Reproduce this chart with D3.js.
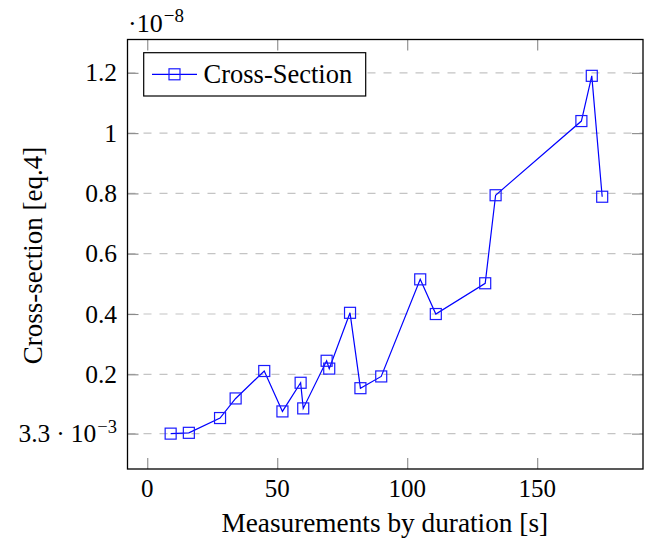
<!DOCTYPE html>
<html>
<head>
<meta charset="utf-8">
<script src="https://cdn.jsdelivr.net/npm/d3@7"></script>
<style>
  html, body { margin: 0; padding: 0; background: #fff; }
</style>
</head>
<body>
<svg id="chart" width="649" height="542"></svg>
<script>
// Measurement durations [s] and cross-section values (in units of 1e-8)
const durations = [9, 16, 28, 34, 45, 52, 59, 60, 69, 70, 78, 82, 90, 105, 111, 130, 134, 167, 171, 175];
const crossSection = [0.0033, 0.006, 0.055, 0.12, 0.211, 0.077, 0.172, 0.087, 0.245, 0.219, 0.404, 0.154, 0.193, 0.515, 0.4, 0.502, 0.794, 1.04, 1.19, 0.789];

const xTicks = [0, 50, 100, 150];
const yTicks = [0.0033, 0.2, 0.4, 0.6, 0.8, 1, 1.2];
const yTickLabels = ["3.3·10^-3", "0.2", "0.4", "0.6", "0.8", "1", "1.2"];
const seriesName = "Cross-Section";
const xTitle = "Measurements by duration [s]";
const yTitle = "Cross-section [eq.4]";

const serif = '"Liberation Serif"';
const frame = { left: 127.5, right: 643, top: 39.5, bottom: 469 };
const svg = d3.select("#chart").style("font-family", serif);

const x = d3.scaleLinear().domain([-7.6, 190.7]).range([frame.left, frame.right]);
const y = d3.scaleLinear().domain([-0.114, 1.3105]).range([frame.bottom, frame.top]);

const tickLen = 11;
const tickColor = "#8a8a8a";

// horizontal dashed grid
svg.append("g").selectAll("line").data(yTicks).join("line")
  .attr("x1", frame.left).attr("x2", frame.right)
  .attr("y1", d => y(d)).attr("y2", d => y(d))
  .attr("stroke", "#c4c4c4").attr("stroke-width", 1.2)
  .attr("stroke-dasharray", "8,8");

// ticks on all four sides, drawn inward
const bottomAxis = d3.axisBottom(x).tickValues(xTicks).tickSizeInner(-tickLen).tickSizeOuter(0).tickFormat("");
const topAxis = d3.axisTop(x).tickValues(xTicks).tickSizeInner(-tickLen).tickSizeOuter(0).tickFormat("");
const leftAxis = d3.axisLeft(y).tickValues(yTicks).tickSizeInner(-tickLen).tickSizeOuter(0).tickFormat("");
const rightAxis = d3.axisRight(y).tickValues(yTicks).tickSizeInner(-tickLen).tickSizeOuter(0).tickFormat("");

function styleAxis(g) {
  g.select(".domain").remove();
  g.selectAll(".tick line").attr("stroke", tickColor).attr("stroke-width", 1.1);
}
svg.append("g").attr("transform", `translate(0,${frame.bottom})`).call(bottomAxis).call(styleAxis);
svg.append("g").attr("transform", `translate(0,${frame.top})`).call(topAxis).call(styleAxis);
svg.append("g").attr("transform", `translate(${frame.left},0)`).call(leftAxis).call(styleAxis);
svg.append("g").attr("transform", `translate(${frame.right},0)`).call(rightAxis).call(styleAxis);

// x tick labels
svg.append("g").selectAll("text").data(xTicks).join("text")
  .style("font-family", serif)
  .attr("x", d => x(d)).attr("y", 497)
  .attr("text-anchor", "middle")
  .attr("font-size", 25)
  .text(d => d);

// y tick labels (with superscript exponent where present)
const yLab = svg.append("g").selectAll("text").data(yTicks).join("text")
  .style("font-family", serif)
  .attr("x", 117).attr("y", d => y(d) + 8.5)
  .attr("text-anchor", "end")
  .attr("font-size", 25.5);
yLab.each(function(d, i) {
  const t = d3.select(this);
  const lab = yTickLabels[i];
  const parts = lab.split("^");
  if (parts.length === 2) {
    const [mant, base] = parts[0].split("·");
    t.append("tspan").text(mant);
    t.append("tspan").attr("dx", 6).text("·");
    t.append("tspan").attr("dx", 6).text(base);
    t.append("tspan").attr("dx", 1).attr("dy", -9).attr("font-size", 18.5).text(parts[1].replace("-", "−"));
  } else {
    t.text(lab);
  }
});

// common multiplier above the axis
const mult = svg.append("text").style("font-family", serif).attr("x", 128).attr("y", 32).attr("font-size", 26);
mult.append("tspan").text("·10");
mult.append("tspan").attr("dx", 1).attr("dy", -10).attr("font-size", 19).text("−8");

// axis titles
svg.append("text")
  .style("font-family", serif)
  .attr("x", (frame.left + frame.right) / 2 - 0.5).attr("y", 532)
  .attr("text-anchor", "middle").attr("font-size", 27.3)
  .text(xTitle);
svg.append("text")
  .style("font-family", serif)
  .attr("transform", `translate(42,255.5) rotate(-90)`)
  .attr("text-anchor", "middle").attr("font-size", 27)
  .text(yTitle);

// data line
const pts = durations.map((d, i) => [d, crossSection[i]]);
svg.append("path")
  .datum(pts)
  .attr("fill", "none").attr("stroke", "#0000ff").attr("stroke-width", 1.2)
  .attr("d", d3.line().x(d => x(d[0])).y(d => y(d[1])));

// square markers
const ms = 11;
svg.append("g").selectAll("rect").data(pts).join("rect")
  .attr("x", d => x(d[0]) - ms / 2).attr("y", d => y(d[1]) - ms / 2)
  .attr("width", ms).attr("height", ms)
  .attr("fill", "none").attr("stroke", "#1a1aff").attr("stroke-width", 1.2);

// plot frame
svg.append("rect")
  .attr("x", frame.left).attr("y", frame.top)
  .attr("width", frame.right - frame.left).attr("height", frame.bottom - frame.top)
  .attr("fill", "none").attr("stroke", "#000").attr("stroke-width", 1.3);

// legend
const lg = svg.append("g");
lg.append("rect")
  .attr("x", 143.7).attr("y", 52.7).attr("width", 222).attr("height", 43.3)
  .attr("fill", "#fff").attr("stroke", "#000").attr("stroke-width", 1.2);
lg.append("line")
  .attr("x1", 152).attr("x2", 197).attr("y1", 74.3).attr("y2", 74.3)
  .attr("stroke", "#0000ff").attr("stroke-width", 1.2);
lg.append("rect")
  .attr("x", 174.5 - ms / 2).attr("y", 74.3 - ms / 2).attr("width", ms).attr("height", ms)
  .attr("fill", "none").attr("stroke", "#1a1aff").attr("stroke-width", 1.2);
lg.append("text")
  .style("font-family", serif)
  .attr("x", 203.5).attr("y", 82.5).attr("font-size", 26.5)
  .text(seriesName);
</script>
</body>
</html>
